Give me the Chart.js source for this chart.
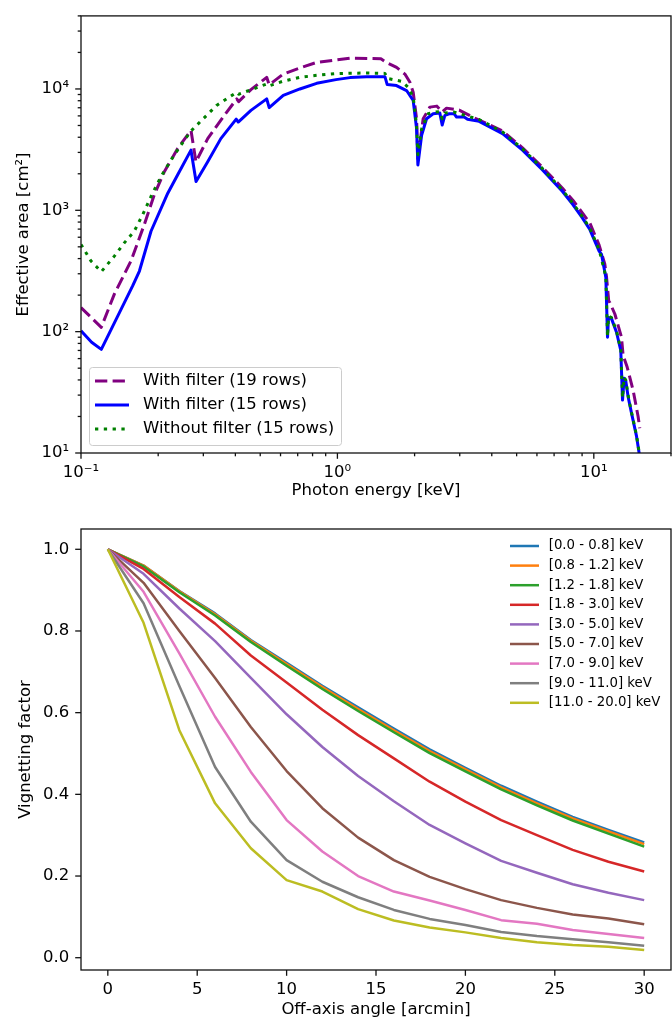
<!DOCTYPE html>
<html><head><meta charset="utf-8">
<script src="https://cdn.jsdelivr.net/npm/chart.js@4.4.0/dist/chart.umd.min.js"></script>
<style>
html,body{margin:0;padding:0;background:#fff;}
#wrap{position:relative;width:672px;height:1021px;background:#fff;}
canvas{position:absolute;left:0;}
</style></head><body>
<div id="wrap">
<canvas id="c1" width="672" height="510" style="top:0px"></canvas>
<canvas id="c2" width="672" height="511" style="top:510px"></canvas>
</div>
<script>
// ---------- Top panel data: effective area ----------
const labelsTop = ['With filter (19 rows)', 'With filter (15 rows)', 'Without filter (15 rows)'];
const e19 = [0.100,0.120,0.1349,0.1566,0.1765,0.1931,0.2113,0.2382,0.2685,0.2807,0.312,0.362,0.405,0.412,0.460,0.530,0.542,0.615,0.714,0.830,1.119,1.478,1.552,1.701,1.833,1.918,1.975,2.036,2.060,2.160,2.294,2.443,2.562,2.665,2.985,3.366,4.406,5.272,6.31,7.55,8.30,9.65,10.49,11.04,11.21,11.43,11.54,12.08,12.82,13.01,13.49,14.23,14.89,15.11];
const a19 = [158,108.6,204,382,762,1342,2081,3228,4566,2513,3897,6058,8283,7860,9885,12470,10825,13270,14910,16540,17930,17740,16540,15050,13270,11340,9398,5682,2659,5682,7085,7220,6448,6950,6695,5867,4506,3271,2257,1520,1205,786,516,359,282,179.6,174,139.8,90,63.7,51.1,33.0,19.9,16.0];
const e15 = [0.100,0.110,0.120,0.159,0.169,0.1875,0.218,0.238,0.2685,0.281,0.312,0.351,0.403,0.4105,0.460,0.530,0.542,0.615,0.714,0.830,0.987,1.119,1.300,1.532,1.564,1.701,1.861,1.975,2.036,2.060,2.130,2.227,2.363,2.509,2.562,2.625,2.729,2.854,2.916,3.121,3.218,3.572,4.406,5.272,6.31,7.55,8.30,9.036,9.65,10.49,10.72,11.14,11.31,11.41,11.72,12.26,12.74,12.94,13.13,13.33,13.61,14.03,14.68,15.02,15.3];
const a15 = [101.5,81.9,71.4,238,316,672,1383,1956,3132,1724,2512,3897,5649,5339,6656,8283,7015,8870,10000,11130,11940,12400,12630,12630,10865,10660,9705,8035,4707,2362,4157,5682,6245,6326,5047,6058,6245,6245,5867,5867,5618,5410,4284,3132,2148,1428,1111,863,694,461,433,279,90,131,128,98.9,70,27.3,41.3,39,29,21.3,13.7,10.0,8.0];
const eNF = [0.100,0.1094,0.120,0.1349,0.1475,0.1613,0.174,0.1875,0.205,0.2243,0.2454,0.2685,0.291,0.338,0.405,0.412,0.530,0.542,0.615,0.714,0.830,0.987,1.119,1.300,1.532,1.564,1.780,1.888,1.975,2.036,2.060,2.130,2.259,2.400,2.509,2.562,2.625,2.854,3.121,3.572,4.406,5.272,6.31,7.55,8.30,9.036,9.65,10.49,11.14,11.31,11.41,11.72,12.26,12.74,12.94,13.13,13.33,13.61,14.03,14.68,15.02,15.3];
const aNF = [523,382,312,419,539,672,920,1299,1894,2594,3442,4506,5339,7315,9398,9050,10990,10620,11600,12470,12950,13370,13480,13520,13440,12230,11560,10330,8550,5018,2868,4680,6245,6448,6510,5682,6326,6448,6093,5598,4422,3210,2203,1463,1139,883,711,474,285,91,134,130.5,101,71.4,28.4,42.1,39.8,29.7,21.6,13.9,10.15,8.1];
const xTicksTop = [0.1, 1, 10];
const xTickLabelsTop = ['10\u207B\u00B9', '10\u2070', '10\u00B9'];
const yTicksTop = [10, 100, 1000, 10000];
const yTickLabelsTop = ['10\u00B9', '10\u00B2', '10\u00B3', '10\u2074'];

// ---------- Bottom panel data: vignetting ----------
const angles = [0,2,4,6,8,10,12,14,16,18,20,22,24,26,28,30];
const bandLabels = ['[0.0 - 0.8] keV','[0.8 - 1.2] keV','[1.2 - 1.8] keV','[1.8 - 3.0] keV','[3.0 - 5.0] keV','[5.0 - 7.0] keV','[7.0 - 9.0] keV','[9.0 - 11.0] keV','[11.0 - 20.0] keV'];
const vig0 = [1,0.960,0.898,0.843,0.778,0.722,0.666,0.613,0.561,0.510,0.465,0.421,0.382,0.345,0.313,0.282];
const vig1 = [1,0.960,0.897,0.841,0.776,0.719,0.663,0.609,0.557,0.506,0.461,0.417,0.378,0.341,0.309,0.278];
const vig2 = [1,0.958,0.895,0.838,0.773,0.715,0.658,0.604,0.552,0.501,0.456,0.412,0.373,0.336,0.304,0.272];
const vig3 = [1,0.952,0.883,0.818,0.740,0.674,0.607,0.545,0.488,0.431,0.382,0.337,0.300,0.264,0.235,0.211];
const vig4 = [1,0.940,0.855,0.775,0.685,0.596,0.516,0.445,0.383,0.325,0.280,0.237,0.208,0.180,0.159,0.141];
const vig5 = [1,0.918,0.800,0.685,0.565,0.457,0.366,0.294,0.239,0.198,0.168,0.141,0.122,0.106,0.096,0.082];
const vig6 = [1,0.896,0.745,0.590,0.455,0.337,0.260,0.200,0.162,0.140,0.117,0.092,0.083,0.068,0.058,0.048];
const vig7 = [1,0.868,0.665,0.467,0.333,0.239,0.186,0.148,0.117,0.095,0.080,0.063,0.053,0.045,0.038,0.029];
const vig8 = [1,0.820,0.557,0.378,0.268,0.190,0.162,0.119,0.091,0.074,0.062,0.048,0.038,0.031,0.027,0.019];
const xTicksBot = [0,5,10,15,20,25,30];
const xTickLabelsBot = ['0','5','10','15','20','25','30'];
const yTicksBot = [0,0.2,0.4,0.6,0.8,1.0];
const yTickLabelsBot = ['0.0','0.2','0.4','0.6','0.8','1.0'];

// ---------- helpers ----------
Chart.defaults.font.family = "'DejaVu Sans', sans-serif";
Chart.defaults.font.size = 16.5;
Chart.defaults.color = '#000';
Chart.defaults.animation = false;

function minorLog(min, max){
  const out=[];
  for(let e=-2;e<=5;e++){
    for(let s=2;s<=9;s++){const v=s*Math.pow(10,e); if(v>=min*0.999 && v<=max*1.001) out.push(v);}
  }
  return out;
}
const pairs=(xs,ys)=>xs.map((x,i)=>({x:x,y:ys[i]}));

const frameTicks = {
  id:'frameTicks',
  afterDatasetsDraw(chart, args, o){
    const ctx=chart.ctx, a=chart.chartArea, xs=chart.scales.x, ys=chart.scales.y;
    ctx.save();
    ctx.strokeStyle='#111'; ctx.lineWidth=1.3;
    const dx=(v,len)=>{const p=xs.getPixelForValue(v); ctx.beginPath(); ctx.moveTo(p,a.bottom); ctx.lineTo(p,a.bottom+len); ctx.stroke();};
    const dy=(v,len)=>{const p=ys.getPixelForValue(v); ctx.beginPath(); ctx.moveTo(a.left,p); ctx.lineTo(a.left-len,p); ctx.stroke();};
    o.xMajor.forEach(v=>dx(v,5.8)); (o.xMinor||[]).forEach(v=>dx(v,3.3));
    o.yMajor.forEach(v=>dy(v,5.8)); (o.yMinor||[]).forEach(v=>dy(v,3.3));
    ctx.strokeRect(a.left, a.top, a.right-a.left, a.bottom-a.top);
    ctx.restore();
  }
};

const customLegend = {
  id:'customLegend',
  afterDraw(chart, args, o){
    const ctx=chart.ctx, a=chart.chartArea;
    ctx.save();
    const bx = o.anchor==='left' ? a.left+o.bx : a.right-o.bx;
    const by = o.vanchor==='bottom' ? a.bottom-o.by-o.h : a.top+o.by;
    if(o.frame){
      ctx.fillStyle='rgba(255,255,255,0.8)'; ctx.strokeStyle='#cccccc'; ctx.lineWidth=1;
      ctx.beginPath(); ctx.roundRect(bx+0.5, by+0.5, o.w, o.h, 3); ctx.fill(); ctx.stroke();
    }
    ctx.font = o.fontSize+"px 'DejaVu Sans', sans-serif";
    ctx.textBaseline='middle'; ctx.textAlign='left'; ctx.fillStyle='#000';
    chart.data.datasets.forEach((ds,i)=>{
      const y = by + o.row0 + i*o.dy;
      ctx.strokeStyle=ds.borderColor; ctx.lineWidth=ds.borderWidth;
      ctx.setLineDash(ds.borderDash||[]); ctx.lineCap='butt';
      ctx.beginPath(); ctx.moveTo(bx+o.hx0,y); ctx.lineTo(bx+o.hx1,y); ctx.stroke();
      ctx.setLineDash([]);
      ctx.fillText(ds.label, bx+o.tx, y);
    });
    ctx.restore();
  }
};

// ---------- top chart ----------
const topStyles = [
  {color:'#800080', dash:[12.3,5.3]},
  {color:'#0000ff', dash:[]},
  {color:'#008000', dash:[3.3,5.5]}
];
const topSeries = [pairs(e19,a19), pairs(e15,a15), pairs(eNF,aNF)];
new Chart(document.getElementById('c1'), {
  type:'line',
  data:{datasets: topSeries.map((d,i)=>({
    label: labelsTop[i], data:d, borderColor: topStyles[i].color, borderDash: topStyles[i].dash,
    borderWidth:3, pointRadius:0, tension:0, fill:false, order:-i, borderCapStyle:'butt', borderJoinStyle:'round'
  }))},
  options:{
    responsive:false, devicePixelRatio:1, parsing:true,
    layout:{padding:{left:0,right:1,top:13,bottom:0}},
    plugins:{legend:{display:false}, tooltip:{enabled:false},
      frameTicks:{xMajor:xTicksTop, xMinor:minorLog(0.1,20), yMajor:yTicksTop, yMinor:minorLog(10,40000)},
      customLegend:{anchor:'left', vanchor:'bottom', bx:8, by:8, w:252, h:78, frame:true, row0:14, dy:24, hx0:6, hx1:40, tx:54, fontSize:16.5}
    },
    scales:{
      x:{type:'logarithmic', min:0.1, max:20,
        grid:{display:true, drawOnChartArea:false, drawTicks:true, tickLength:5.8, color:'rgba(0,0,0,0)'},
        border:{display:false},
        afterBuildTicks:(s)=>{s.ticks = xTicksTop.map(v=>({value:v}));},
        afterFit:(s)=>{s.height=57;},
        ticks:{autoSkip:false, maxRotation:0, padding:4, callback:(v,i)=>xTickLabelsTop[i]},
        title:{display:true, text:'Photon energy [keV]', padding:{top:0,bottom:9}}
      },
      y:{type:'logarithmic', min:10, max:40000,
        grid:{display:true, drawOnChartArea:false, drawTicks:true, tickLength:5.8, color:'rgba(0,0,0,0)'},
        border:{display:false},
        afterBuildTicks:(s)=>{s.ticks = yTicksTop.map(v=>({value:v}));},
        afterFit:(s)=>{s.width=81;},
        ticks:{autoSkip:false, padding:6, callback:(v,i)=>yTickLabelsTop[i]},
        title:{display:true, text:'Effective area [cm\u00B2]', padding:{top:14,bottom:0}}
      }
    }
  },
  plugins:[frameTicks, customLegend]
});

// ---------- bottom chart ----------
const tab10 = ['#1f77b4','#ff7f0e','#2ca02c','#d62728','#9467bd','#8c564b','#e377c2','#7f7f7f','#bcbd22'];
const vigSeries = [vig0,vig1,vig2,vig3,vig4,vig5,vig6,vig7,vig8];
new Chart(document.getElementById('c2'), {
  type:'line',
  data:{datasets: vigSeries.map((v,i)=>({
    label: bandLabels[i], data: pairs(angles, v), borderColor: tab10[i], borderWidth:2.5,
    pointRadius:0, tension:0, fill:false, order:-i, borderCapStyle:'butt', borderJoinStyle:'round'
  }))},
  options:{
    responsive:false, devicePixelRatio:1,
    layout:{padding:{left:0,right:1,top:19,bottom:0}},
    plugins:{legend:{display:false}, tooltip:{enabled:false},
      frameTicks:{xMajor:xTicksBot, yMajor:yTicksBot},
      customLegend:{anchor:'right', vanchor:'top', bx:161, by:7, w:0, h:0, frame:false, row0:10, dy:19.6, hx0:0, hx1:29, tx:38.7, fontSize:13.3}
    },
    scales:{
      x:{type:'linear', min:-1.5, max:31.5,
        grid:{display:true, drawOnChartArea:false, drawTicks:true, tickLength:5.8, color:'rgba(0,0,0,0)'},
        border:{display:false},
        afterBuildTicks:(s)=>{s.ticks = xTicksBot.map(v=>({value:v}));},
        afterFit:(s)=>{s.height=51;},
        ticks:{autoSkip:false, maxRotation:0, padding:4, callback:(v,i)=>xTickLabelsBot[i]},
        title:{display:true, text:'Off-axis angle [arcmin]', padding:{top:0,bottom:1}}
      },
      y:{type:'linear', min:-0.0301, max:1.0497,
        grid:{display:true, drawOnChartArea:false, drawTicks:true, tickLength:5.8, color:'rgba(0,0,0,0)'},
        border:{display:false},
        afterBuildTicks:(s)=>{s.ticks = yTicksBot.map(v=>({value:v}));},
        afterFit:(s)=>{s.width=81;},
        ticks:{autoSkip:false, padding:6, callback:(v,i)=>yTickLabelsBot[i]},
        title:{display:true, text:'Vignetting factor', padding:{top:16,bottom:0}}
      }
    }
  },
  plugins:[frameTicks, customLegend]
});
</script>
</body></html>
